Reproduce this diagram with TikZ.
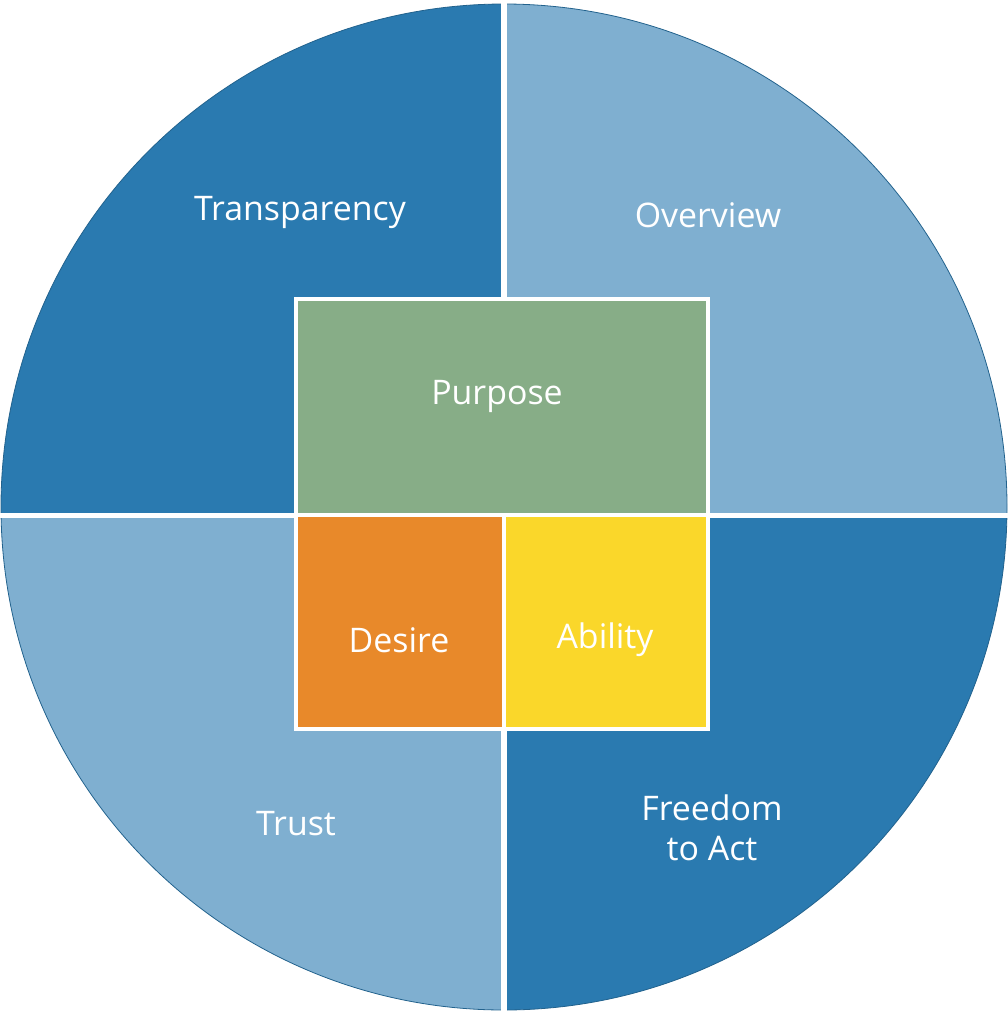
\documentclass[tikz,border=0pt]{standalone}
\usepackage{fontspec}
\setmainfont{Open Sans}
\definecolor{dk}{HTML}{2A7AB0}
\definecolor{lt}{HTML}{7FAFD0}
\definecolor{gr}{HTML}{87AD87}
\definecolor{orr}{HTML}{E8892A}
\definecolor{yl}{HTML}{FAD72A}
\begin{document}
\begin{tikzpicture}[x=1bp,y=-1bp,
  lab/.style={text=white,font=\fontsize{34}{40}\selectfont,align=center},
  box/.style={draw=white,line width=4bp}]
\useasboundingbox (0,0) rectangle (1008,1013);
\begin{scope}
\clip (504,507) circle (503);
\fill[dk] (0,0) rectangle (504,515);
\fill[lt] (504,0) rectangle (1008,515);
\fill[lt] (0,515) rectangle (504,1013);
\fill[dk] (504,515) rectangle (1008,1013);
\draw[white,line width=6bp] (504,0) -- (504,1013);
\draw[white,line width=5bp] (0,515) -- (1008,515);
\end{scope}
\draw[dk!80!black,line width=0.8bp] (504,507) circle (503);
\draw[white,line width=6bp] (504,0) -- (504,1013);
\draw[white,line width=5bp] (0,515) -- (1008,515);
\filldraw[box,fill=gr] (296,299) rectangle (708,515);
\filldraw[box,fill=orr] (296,515) rectangle (504,729);
\filldraw[box,fill=yl] (504,515) rectangle (708,729);
\node[lab] (t) at (300,212) {Transparency};
\node[lab] (o) at (708,215) {Overview};
\node[lab] (p) at (497,396) {Purpose};
\node[lab] (d) at (399,640) {Desire};
\node[lab] (a) at (605,640) {Ability};
\node[lab] (tr) at (296,824) {Trust};
\node[lab] (f) at (712,828) {Freedom\\to Act};
\end{tikzpicture}
\end{document}
